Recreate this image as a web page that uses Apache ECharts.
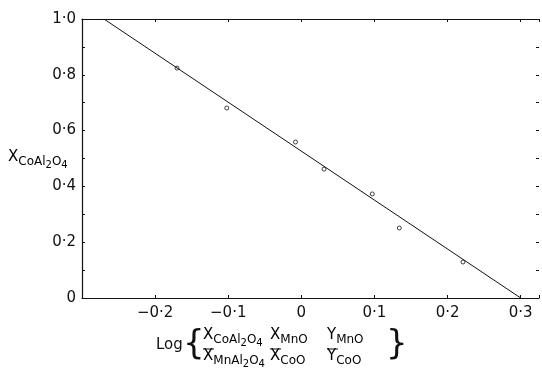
<!DOCTYPE html>
<html>
<head>
<meta charset="utf-8">
<script src="https://cdn.jsdelivr.net/npm/echarts@6/dist/echarts.min.js"></script>
<style>
  html, body { margin: 0; padding: 0; background: #fff; }
  #chart { width: 542px; height: 371px; }
</style>
</head>
<body>
<div id="chart"></div>
<script>
// measured points (log term, X CoAl2O4)
const logTerm = [-0.170, -0.102, -0.008, 0.031, 0.097, 0.134, 0.221];
const xCoAl = [0.824, 0.681, 0.559, 0.462, 0.373, 0.251, 0.129];
// fitted line ends
const fitX = [-0.27, 0.30];
const fitY = [1.0, 0.0];

const xTickLabels = ['−0·2', '−0·1', '0', '0·1', '0·2', '0·3'];
const yTickLabels = ['0', '0·2', '0·4', '0·6', '0·8', '1·0'];

const font = 'DejaVu Sans';
const ink = '#111';

function xLabel(v) {
  const k = Math.round(v * 10);
  if (Math.abs(v * 10 - k) > 1e-6 || k < -2 || k > 3) return '';
  return xTickLabels[k + 2];
}
function yLabel(v) {
  const k = Math.round(v * 10);
  if (Math.abs(v * 10 - k) > 1e-6 || k % 2 !== 0) return '';
  return yTickLabels[k / 2];
}

// rich styles for chemistry subscripts
const rich = {
  x: { fontSize: 15, fontFamily: font, color: ink, lineHeight: 20, verticalAlign: 'top' },
  s: { fontSize: 12, fontFamily: font, color: ink, lineHeight: 12, verticalAlign: 'bottom', padding: [0, 0, 2, 0] },
  n: { fontSize: 10, fontFamily: font, color: ink, lineHeight: 10, verticalAlign: 'bottom' }
};
function chem(sym, parts) {
  // parts: alternating text and small digits, like ['CoAl','2','O','4']
  let s = '{x|' + sym + '}';
  parts.forEach(function (p) {
    s += /^\d$/.test(p) ? '{n|' + p + '}' : '{s|' + p + '}';
  });
  return s;
}

const chart = echarts.init(document.getElementById('chart'));

const axisBase = {
  type: 'value',
  axisTick: { inside: true, length: 3, lineStyle: { color: ink } },
  splitLine: { show: false }
};

const option = {
  backgroundColor: '#fff',
  animation: false,
  grid: { left: 82, top: 19, right: 2, bottom: 73 },
  xAxis: [Object.assign({}, axisBase, {
    min: -0.3, max: 0.325, interval: 0.1, position: 'bottom',
    axisLine: { onZero: false, lineStyle: { color: ink, width: 1.2 } },
    axisLabel: { formatter: xLabel, color: ink, fontSize: 15, fontFamily: font, margin: 8 }
  }), Object.assign({}, axisBase, {
    min: -0.3, max: 0.325, interval: 0.1, position: 'top',
    axisLine: { onZero: false, lineStyle: { color: ink, width: 1.2 } },
    axisLabel: { show: false }
  })],
  yAxis: [Object.assign({}, axisBase, {
    min: 0, max: 1, interval: 0.1, position: 'left',
    axisLine: { onZero: false, lineStyle: { color: ink, width: 1.2 } },
    axisLabel: { formatter: yLabel, color: ink, fontSize: 15, fontFamily: font, margin: 6 }
  }), Object.assign({}, axisBase, {
    min: 0, max: 1, interval: 0.1, position: 'right',
    axisLine: { show: false, onZero: false },
    axisLabel: { show: false }
  })],
  series: [{
    type: 'line',
    data: fitX.map(function (v, i) { return [v, fitY[i]]; }),
    showSymbol: false,
    lineStyle: { color: ink, width: 1 },
    silent: true
  }, {
    type: 'scatter',
    data: logTerm.map(function (v, i) { return [v, xCoAl[i]]; }),
    symbol: 'circle',
    symbolSize: 4,
    itemStyle: { color: '#fff', borderColor: ink, borderWidth: 1 }
  }],
  graphic: [
    // y axis name
    { type: 'text', left: 8, top: 150, style: { text: chem('X', ['CoAl', '2', 'O', '4']), rich: rich } },
    // x axis name: Log { ... }
    { type: 'text', left: 156, top: 338, style: { text: 'Log', fontSize: 15, fontFamily: font, fill: ink } },
    { type: 'text', left: 183, top: 328, style: { text: '{', fontSize: 34, fontFamily: font, fill: ink } },
    { type: 'text', left: 386, top: 328, style: { text: '}', fontSize: 34, fontFamily: font, fill: ink } },
    { type: 'text', left: 203, top: 328, style: { text: chem('X', ['CoAl', '2', 'O', '4']), rich: rich } },
    { type: 'text', left: 203, top: 349, style: { text: chem('X', ['MnAl', '2', 'O', '4']), rich: rich } },
    { type: 'text', left: 270, top: 328, style: { text: chem('X', ['MnO']), rich: rich } },
    { type: 'text', left: 270, top: 349, style: { text: chem('X', ['CoO']), rich: rich } },
    { type: 'text', left: 327, top: 328, style: { text: chem('Y', ['MnO']), rich: rich } },
    { type: 'text', left: 327, top: 349, style: { text: chem('Y', ['CoO']), rich: rich } },
    // short fraction bars
    { type: 'line', shape: { x1: 203, y1: 349, x2: 214, y2: 349 }, style: { stroke: ink, lineWidth: 1 } },
    { type: 'line', shape: { x1: 270, y1: 349, x2: 281, y2: 349 }, style: { stroke: ink, lineWidth: 1 } },
    { type: 'line', shape: { x1: 327, y1: 349, x2: 338, y2: 349 }, style: { stroke: ink, lineWidth: 1 } }
  ]
};

chart.setOption(option);
</script>
</body>
</html>
